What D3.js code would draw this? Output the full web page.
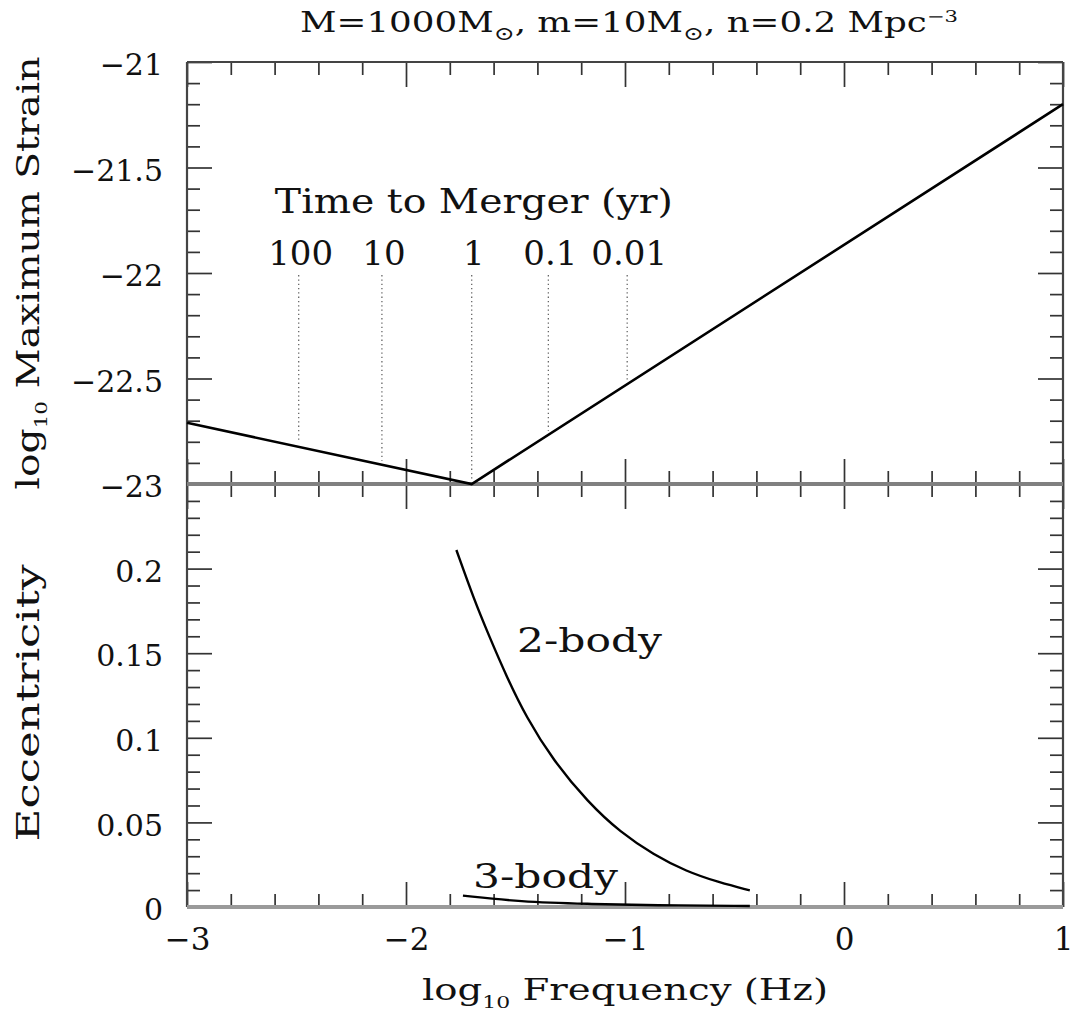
<!DOCTYPE html>
<html><head><meta charset="utf-8">
<script src="https://cdn.jsdelivr.net/npm/d3@7"></script>
<style>body{margin:0;background:#fff} svg{display:block}</style>
</head><body>
<script>
// ---- data ----
const freqTicks = [-3, -2, -1, 0, 1];
const freqTickLabels = ["−3", "−2", "−1", "0", "1"];
const strainTicks = [-23, -22.5, -22, -21.5, -21];
const strainTickLabels = ["−23", "−22.5", "−22", "−21.5", "−21"];
const eccTicks = [0, 0.05, 0.1, 0.15, 0.2];
const eccTickLabels = ["0", "0.05", "0.1", "0.15", "0.2"];

const strainLogF = [-3, -1.70, 1];
const strainVal = [-22.71, -23.0, -21.2];

const mergerLabels = ["100", "10", "1", "0.1", "0.01"];
const mergerLogF = [-2.49, -2.11, -1.70, -1.35, -0.99];

const ecc2LogF = [-1.77, -1.69, -1.62, -1.54, -1.45, -1.33, -1.17, -1.02, -0.87, -0.72, -0.57, -0.43];
const ecc2Val = [0.211, 0.182, 0.160, 0.136, 0.112, 0.087, 0.062, 0.044, 0.031, 0.021, 0.0145, 0.0098];

const ecc3LogF = [-1.74, -1.48, -1.17, -0.87, -0.43];
const ecc3Val = [0.0067, 0.0031, 0.0018, 0.0010, 0.0006];

// ---- drawing ----
const W = 1072, H = 1013;
const FONT = "'DejaVu Serif', serif";
const svg = d3.select("body").append("svg").attr("width", W).attr("height", H);

const x = d3.scaleLinear().domain([-3, 1]).range([187, 1063]);
const yS = d3.scaleLinear().domain([-23, -21]).range([484, 62]);
const yE = d3.scaleLinear().domain([0, 0.25]).range([907, 484]);

const near = (v, step) => Math.abs(v / step - Math.round(v / step)) < 1e-6;
const xMinor = d3.range(21).map(i => -3 + i * 0.2).filter(v => !near(v, 1));
const ySMinor = d3.range(21).map(i => -23 + i * 0.1).filter(v => !near(v, 0.5));
const yEMinor = d3.range(26).map(i => i * 0.01).filter(v => !near(v, 0.05));

const TICK = "#333";
function styleAxis(g) {
  g.select(".domain").remove();
  g.selectAll(".tick line").attr("stroke", TICK).attr("stroke-width", 1.7);
  g.selectAll(".tick text").attr("font-family", FONT).attr("fill", "#111");
}
function addAxis(axis, tx, ty) {
  const g = svg.append("g").attr("transform", `translate(${tx},${ty})`).call(axis);
  styleAxis(g);
  return g;
}
const MAJ = 25, MIN = 13;

// top frame axis (ticks downward)
addAxis(d3.axisBottom(x).tickValues(freqTicks).tickSize(MAJ).tickFormat(""), 0, yS(-21));
addAxis(d3.axisBottom(x).tickValues(xMinor).tickSize(MIN).tickFormat(""), 0, yS(-21));
// middle shared axis (ticks both ways)
addAxis(d3.axisBottom(x).tickValues(freqTicks).tickSize(MAJ).tickFormat(""), 0, yS(-23));
addAxis(d3.axisBottom(x).tickValues(xMinor).tickSize(MIN).tickFormat(""), 0, yS(-23));
addAxis(d3.axisTop(x).tickValues(freqTicks).tickSize(MAJ).tickFormat(""), 0, yS(-23));
addAxis(d3.axisTop(x).tickValues(xMinor).tickSize(MIN).tickFormat(""), 0, yS(-23));
// bottom axis (ticks upward, labels below)
addAxis(d3.axisTop(x).tickValues(freqTicks).tickSize(MAJ).tickFormat(""), 0, yE(0));
addAxis(d3.axisTop(x).tickValues(xMinor).tickSize(MIN).tickFormat(""), 0, yE(0));
const xb = addAxis(d3.axisBottom(x).tickValues(freqTicks).tickSize(0).tickPadding(21)
  .tickFormat((d, i) => freqTickLabels[i]), 0, yE(0));
xb.selectAll(".tick text").attr("font-size", 31);

// left / right axes, top panel
const yl = addAxis(d3.axisLeft(yS).tickValues(strainTicks).tickSize(-MAJ).tickPadding(24)
  .tickFormat((d, i) => strainTickLabels[i]), x(-3), 0);
yl.selectAll(".tick text").attr("font-size", 30).attr("dy", "0.42em");
addAxis(d3.axisLeft(yS).tickValues(ySMinor).tickSize(-MIN).tickFormat(""), x(-3), 0);
addAxis(d3.axisRight(yS).tickValues(strainTicks).tickSize(-MAJ).tickFormat(""), x(1), 0);
addAxis(d3.axisRight(yS).tickValues(ySMinor).tickSize(-MIN).tickFormat(""), x(1), 0);
// left / right axes, bottom panel
const el = addAxis(d3.axisLeft(yE).tickValues(eccTicks).tickSize(-MAJ).tickPadding(24)
  .tickFormat((d, i) => eccTickLabels[i]), x(-3), 0);
el.selectAll(".tick text").attr("font-size", 30).attr("dy", "0.42em");
addAxis(d3.axisLeft(yE).tickValues(yEMinor).tickSize(-MIN).tickFormat(""), x(-3), 0);
addAxis(d3.axisRight(yE).tickValues(eccTicks).tickSize(-MAJ).tickFormat(""), x(1), 0);
addAxis(d3.axisRight(yE).tickValues(yEMinor).tickSize(-MIN).tickFormat(""), x(1), 0);

// frame lines
const frame = svg.append("g");
frame.append("line").attr("x1", x(-3)).attr("x2", x(1)).attr("y1", yS(-21)).attr("y2", yS(-21))
  .attr("stroke", "#444").attr("stroke-width", 2.2);
frame.append("line").attr("x1", x(-3)).attr("x2", x(-3)).attr("y1", yS(-21)).attr("y2", yE(0))
  .attr("stroke", "#444").attr("stroke-width", 2.2);
frame.append("line").attr("x1", x(1)).attr("x2", x(1)).attr("y1", yS(-21)).attr("y2", yE(0))
  .attr("stroke", "#444").attr("stroke-width", 2.2);
frame.append("line").attr("x1", x(-3)).attr("x2", x(1)).attr("y1", yS(-23)).attr("y2", yS(-23))
  .attr("stroke", "#808080").attr("stroke-width", 4);
frame.append("line").attr("x1", x(-3)).attr("x2", x(1)).attr("y1", yE(0)).attr("y2", yE(0))
  .attr("stroke", "#9a9a9a").attr("stroke-width", 4);

// dotted time-to-merger lines
const strainAt = d3.scaleLinear().domain(strainLogF).range(strainVal);
svg.append("g").selectAll("line").data(mergerLogF).join("line")
  .attr("x1", d => x(d)).attr("x2", d => x(d))
  .attr("y1", yS(-22.01)).attr("y2", d => yS(strainAt(d)) - 4)
  .attr("stroke", "#666").attr("stroke-width", 1.3).attr("stroke-dasharray", "1.3,3");

// strain curve
svg.append("path")
  .datum(strainLogF.map((f, i) => [f, strainVal[i]]))
  .attr("d", d3.line().x(d => x(d[0])).y(d => yS(d[1])))
  .attr("fill", "none").attr("stroke", "#000").attr("stroke-width", 2.6);

// eccentricity curves
const eLine = d3.line().x(d => x(d[0])).y(d => yE(d[1])).curve(d3.curveBasis);
svg.append("path").datum(ecc2LogF.map((f, i) => [f, ecc2Val[i]])).attr("d", eLine)
  .attr("fill", "none").attr("stroke", "#000").attr("stroke-width", 2.4);
svg.append("path").datum(ecc3LogF.map((f, i) => [f, ecc3Val[i]])).attr("d", eLine)
  .attr("fill", "none").attr("stroke", "#000").attr("stroke-width", 2.4);

// text labels
const T = (xx, yy, size, anchor) => svg.append("text").attr("x", xx).attr("y", yy)
  .attr("font-family", FONT).attr("font-size", size).attr("text-anchor", anchor).attr("fill", "#111");

T(x(-1.69), yS(-21.716), 34, "middle").attr("textLength", 398).attr("lengthAdjust", "spacingAndGlyphs")
  .text("Time to Merger (yr)");
svg.append("g").selectAll("text").data(mergerLogF).join("text")
  .attr("x", d => x(d) + 2).attr("y", yS(-21.962))
  .attr("font-family", FONT).attr("font-size", 34).attr("text-anchor", "middle").attr("fill", "#111")
  .text((d, i) => mergerLabels[i]);

T(x(-1.493), yE(0.1507), 34, "start").attr("textLength", 145).attr("lengthAdjust", "spacingAndGlyphs").text("2-body");
T(x(-1.694), yE(0.0112), 34, "start").attr("textLength", 145).attr("lengthAdjust", "spacingAndGlyphs").text("3-body");

// title
const title = T(629, 32, 27, "middle").attr("textLength", 658).attr("lengthAdjust", "spacingAndGlyphs");
title.append("tspan").text("M=1000M");
title.append("tspan").attr("font-size", 19).attr("dy", 8).text("⊙");
title.append("tspan").attr("dy", -8).text(", m=10M");
title.append("tspan").attr("font-size", 19).attr("dy", 8).text("⊙");
title.append("tspan").attr("dy", -8).text(", n=0.2 Mpc");
title.append("tspan").attr("font-size", 16).attr("dy", -10).text("−3");

// x label
const xl = T(625, 1000, 30, "middle").attr("textLength", 406).attr("lengthAdjust", "spacingAndGlyphs");
xl.append("tspan").text("log");
xl.append("tspan").attr("font-size", 17).attr("dy", 8).text("10");
xl.append("tspan").attr("dy", -8).text(" Frequency (Hz)");

// y labels
const yl1 = svg.append("text").attr("transform", "translate(39,273) rotate(-90)")
  .attr("font-family", FONT).attr("font-size", 31).attr("text-anchor", "middle").attr("fill", "#111")
  .attr("textLength", 433).attr("lengthAdjust", "spacingAndGlyphs");
yl1.append("tspan").text("log");
yl1.append("tspan").attr("font-size", 17).attr("dy", 8).text("10");
yl1.append("tspan").attr("dy", -8).text(" Maximum Strain");

svg.append("text").attr("transform", "translate(39,703) rotate(-90)")
  .attr("font-family", FONT).attr("font-size", 31).attr("text-anchor", "middle").attr("fill", "#111")
  .attr("textLength", 277).attr("lengthAdjust", "spacingAndGlyphs")
  .text("Eccentricity");
</script>
</body></html>
